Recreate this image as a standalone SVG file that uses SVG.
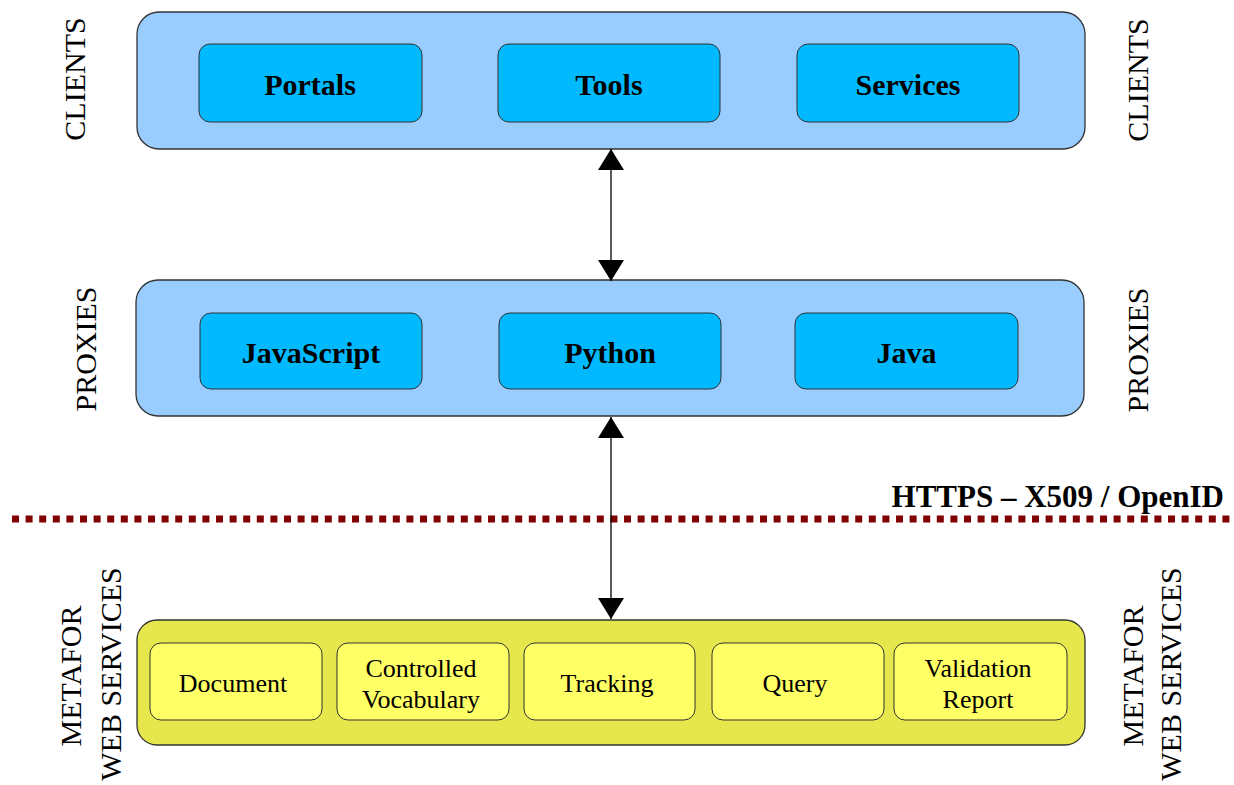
<svg xmlns="http://www.w3.org/2000/svg" width="1234" height="785" viewBox="0 0 1234 785">
<style>
.outerB{fill:#99CCFF;stroke:#333;stroke-width:1.3}
.innerB{fill:#00B9FF;stroke:#333;stroke-width:1}
.outerY{fill:#E6E64D;stroke:#333;stroke-width:1.3}
.innerY{fill:#FFFF66;stroke:#333;stroke-width:1}
.bold{font-family:"Liberation Serif",serif;font-weight:bold;font-size:30px;text-anchor:middle;fill:#000}
.reg{font-family:"Liberation Serif",serif;font-size:26px;text-anchor:middle;fill:#000}
.side{font-family:"Liberation Serif",serif;font-size:30px;text-anchor:middle;fill:#000}
.conn{stroke:#000;stroke-width:1.3;fill:none}
</style>
<defs>
<marker id="ah" viewBox="0 0 21 26" refX="21" refY="13" markerWidth="21" markerHeight="26" markerUnits="userSpaceOnUse" orient="auto-start-reverse">
<path d="M0,0 L21,13 L0,26 z" fill="#000"/>
</marker>
</defs>
<rect width="1234" height="785" fill="#fff"/>

<g id="clients">
<rect class="outerB" x="137" y="12" width="948" height="137" rx="22"/>
<g id="portals"><rect class="innerB" x="199" y="44" width="223" height="78" rx="11"/><text class="bold" x="310" y="95">Portals</text></g>
<g id="tools"><rect class="innerB" x="498" y="44" width="222" height="78" rx="11"/><text class="bold" x="609" y="95">Tools</text></g>
<g id="services"><rect class="innerB" x="797" y="44" width="222" height="78" rx="11"/><text class="bold" x="908" y="95">Services</text></g>
</g>

<g id="proxies">
<rect class="outerB" x="136" y="280" width="948" height="136" rx="22"/>
<g id="javascript"><rect class="innerB" x="200" y="313" width="222" height="76" rx="11"/><text class="bold" x="311" y="363">JavaScript</text></g>
<g id="python"><rect class="innerB" x="499" y="313" width="222" height="76" rx="11"/><text class="bold" x="610" y="363">Python</text></g>
<g id="java"><rect class="innerB" x="795" y="313" width="223" height="76" rx="11"/><text class="bold" x="906.5" y="363">Java</text></g>
</g>

<g id="metafor">
<rect class="outerY" x="137" y="620" width="948" height="125" rx="20"/>
<g id="document"><rect class="innerY" x="150" y="643" width="172" height="77" rx="11"/><text class="reg" x="233" y="692">Document</text></g>
<g id="controlled"><rect class="innerY" x="337" y="643" width="172" height="77" rx="11"/><text class="reg" x="421" y="677">Controlled</text><text class="reg" x="421" y="708">Vocabulary</text></g>
<g id="tracking"><rect class="innerY" x="524" y="643" width="171" height="77" rx="11"/><text class="reg" x="607" y="692">Tracking</text></g>
<g id="query"><rect class="innerY" x="712" y="643" width="172" height="77" rx="11"/><text class="reg" x="795" y="692">Query</text></g>
<g id="validation"><rect class="innerY" x="894" y="643" width="173" height="77" rx="11"/><text class="reg" x="978" y="677">Validation</text><text class="reg" x="978" y="708">Report</text></g>
</g>

<g id="labels">
<text class="side" transform="translate(85,79) rotate(-90)">CLIENTS</text>
<text class="side" transform="translate(1148,80) rotate(-90)">CLIENTS</text>
<text class="side" transform="translate(96,349) rotate(-90)">PROXIES</text>
<text class="side" transform="translate(1148,350) rotate(-90)">PROXIES</text>
<text class="side" transform="translate(81,676) rotate(-90)">METAFOR</text>
<text class="side" transform="translate(121,674) rotate(-90)">WEB SERVICES</text>
<text class="side" transform="translate(1143,676) rotate(-90)">METAFOR</text>
<text class="side" transform="translate(1181,674) rotate(-90)">WEB SERVICES</text>
</g>

<g id="boundary">
<line x1="12" y1="519" x2="1230" y2="519" stroke="#800000" stroke-width="7" stroke-dasharray="7 6.6"/>
<text x="1224" y="507" font-family="Liberation Serif, serif" font-weight="bold" font-size="31" text-anchor="end">HTTPS – X509 / OpenID</text>
</g>

<g id="connectors">
<line class="conn" x1="611" y1="149" x2="611" y2="281" marker-start="url(#ah)" marker-end="url(#ah)"/>
<line class="conn" x1="611" y1="417" x2="611" y2="619" marker-start="url(#ah)" marker-end="url(#ah)"/>
</g>
</svg>
